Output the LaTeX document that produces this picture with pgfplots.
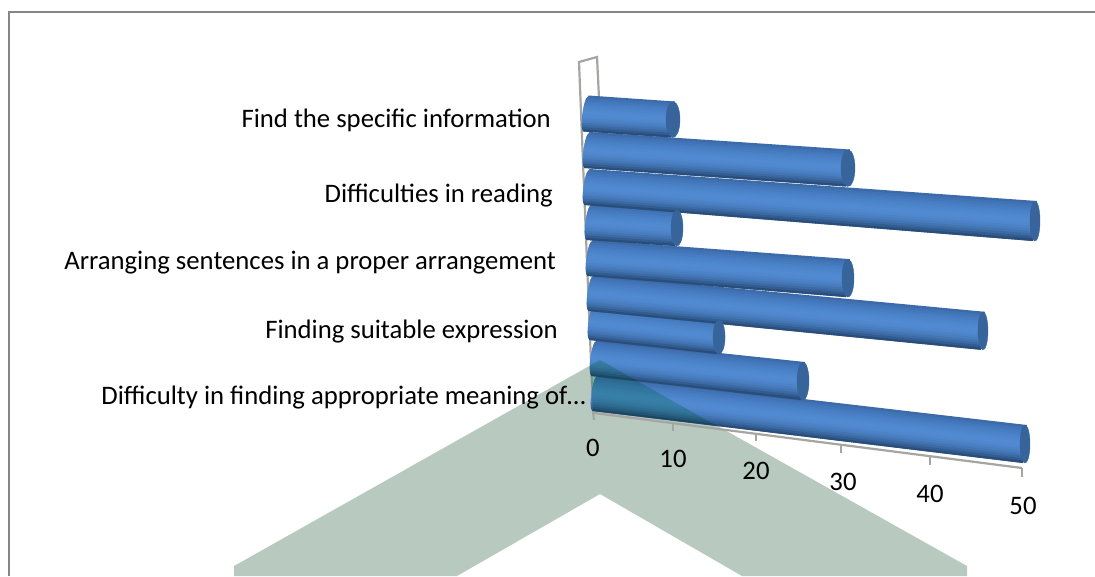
\documentclass[border=0pt]{standalone}
\usepackage{fontspec}
\setmainfont{Carlito}
\usepackage{pgfplots}
\pgfplotsset{compat=1.18}

% Across-the-cylinder shading, top edge to bottom edge
\definecolor{st0}{RGB}{60,107,170}
\definecolor{st1}{RGB}{64,114,180}
\definecolor{st2}{RGB}{68,120,188}
\definecolor{st3}{RGB}{71,125,194}
\definecolor{st4}{RGB}{74,129,199}
\definecolor{st5}{RGB}{77,133,203}
\definecolor{st6}{RGB}{80,136,207}
\definecolor{st7}{RGB}{82,138,209}
\definecolor{st8}{RGB}{82,138,209}
\definecolor{st9}{RGB}{80,135,205}
\definecolor{st10}{RGB}{76,131,199}
\definecolor{st11}{RGB}{72,125,191}
\definecolor{st12}{RGB}{67,117,179}
\definecolor{st13}{RGB}{60,106,164}
\definecolor{st14}{RGB}{51,93,145}
\definecolor{st15}{RGB}{41,78,123}
\definecolor{capblue}{RGB}{54,100,155}
\definecolor{wallgray}{RGB}{165,165,162}
\definecolor{framegray}{RGB}{134,134,134}
\definecolor{chevron}{RGB}{184,201,192}
\definecolor{chevrontint}{RGB}{175,235,205}

% One cylinder: value, start x, start y, x and y per unit of value,
% half height at start and end, width of the end ellipse
\newcommand{\cylinder}[8]{%
  \pgfmathsetmacro{\xe}{#2+#1*#4}%
  \pgfmathsetmacro{\ye}{#3+#1*#5}%
  \pgfplotsinvokeforeach{0,...,15}{%
    \pgfmathsetmacro{\ua}{-1+##1/8}%
    \pgfmathsetmacro{\ub}{min(1,-1+(##1+2)/8)}%
    \pgfmathsetmacro{\xa}{#2-3.5*sqrt(max(0,1-\ua*\ua))-2.5*\ua}%
    \pgfmathsetmacro{\xb}{#2-3.5*sqrt(max(0,1-\ub*\ub))-2.5*\ub}%
    \pgfmathsetmacro{\ya}{#3+\ua*#6}%
    \pgfmathsetmacro{\yb}{#3+\ub*#6}%
    \pgfmathsetmacro{\xc}{\xe-2*\ub}%
    \pgfmathsetmacro{\xd}{\xe-2*\ua}%
    \pgfmathsetmacro{\yc}{\ye+\ub*#7}%
    \pgfmathsetmacro{\yd}{\ye+\ua*#7}%
    \edef\stripe{\noexpand\addplot[fill=st##1,draw=none,forget plot]
      coordinates {(\xa,\ya) (\xb,\yb) (\xc,\yc) (\xd,\yd)} --cycle;}%
    \stripe
  }%
  \pgfmathsetmacro{\xscl}{#8/#7}%
  \edef\capmark{\noexpand\addplot[only marks,mark=*,mark size=#7pt,forget plot,
      mark options={fill=capblue,draw=capblue,line width=0.4pt,xscale=\xscl,rotate=-6}]
      coordinates {(\xe,\ye)};}%
  \capmark
}

\begin{document}
\begin{tikzpicture}[x=1pt,y=1pt]
\begin{axis}[
  scale only axis, width=1095pt, height=576pt,
  xmin=0, xmax=1095, ymin=0, ymax=576, y dir=reverse,
  hide axis, clip=true,
]
  \path[use as bounding box] (axis cs:0,0) rectangle (axis cs:1095,576);

  % Chevron behind the chart
  \addplot[fill=chevron,draw=none,forget plot]
    coordinates {(234,576) (234,566) (600,360) (967,566) (967,576) (742,576) (600,494) (457,576)} --cycle;

  % Outer frame
  \addplot[framegray,line width=2pt,forget plot] coordinates {(8.5,576) (8.5,12) (1095,12)};

  % Back wall and floor edge of the value axis
  \addplot[wallgray,line width=2.2pt,forget plot] coordinates {(599,98) (597,57) (579,62) (593,412) (594,420)};
  \addplot[wallgray,line width=2.2pt,forget plot] coordinates {(594,413) (1022,468)};
  \addplot[wallgray,line width=1.6pt,forget plot] coordinates {(595,413) (601,408)};

  % Ticks along the value axis
  \addplot[wallgray,line width=2pt,forget plot] coordinates {(673,423) (673,431)};
  \addplot[wallgray,line width=2pt,forget plot] coordinates {(756,433) (756,441)};
  \addplot[wallgray,line width=2pt,forget plot] coordinates {(841,445) (841,453)};
  \addplot[wallgray,line width=2pt,forget plot] coordinates {(930,457) (930,465)};
  \addplot[wallgray,line width=2pt,forget plot] coordinates {(1022,468) (1022,477)};

  % Bars, drawn from the lowest row upward
  \cylinder{50}{595}{393}{8.60}{1.02}{18}{19}{5}
  \cylinder{25}{594}{358}{8.36}{0.92}{18}{19}{6}
  \cylinder{15}{592}{322}{8.47}{1.00}{18}{17}{6}
  \cylinder{45}{591}{293}{8.71}{0.84}{18}{19}{5}
  \cylinder{30}{590}{258}{8.60}{0.67}{18}{19}{6}
  \cylinder{10}{589}{222}{8.80}{0.60}{18}{18}{6}
  \cylinder{50}{587}{187}{8.96}{0.68}{18}{20}{5}
  \cylinder{30}{587}{150}{8.70}{0.60}{18}{18.5}{7}
  \cylinder{10}{586}{113.5}{8.70}{0.60}{18}{18}{7}

  % Category labels
  \node[anchor=east,inner xsep=0pt,font=\fontsize{26.7}{30}\selectfont] at (axis cs:551,120.5) {Find the specific information};
  \node[anchor=east,inner xsep=0pt,font=\fontsize{26.7}{30}\selectfont] at (axis cs:553,195.5) {Difficulties in reading};
  \node[anchor=east,inner xsep=0pt,font=\fontsize{26.7}{30}\selectfont] at (axis cs:556,262.5) {Arranging sentences in a proper arrangement};
  \node[anchor=east,inner xsep=0pt,font=\fontsize{26.7}{30}\selectfont] at (axis cs:558,331.5) {Finding suitable expression};
  \node[anchor=east,inner xsep=0pt,font=\fontsize{26.7}{30}\selectfont] at (axis cs:586,397.5) {Difficulty in finding appropriate meaning of…};

  % Value labels
  \node[font=\fontsize{26.7}{30}\selectfont] at (axis cs:593,448) {0};
  \node[font=\fontsize{26.7}{30}\selectfont] at (axis cs:673,459) {10};
  \node[font=\fontsize{26.7}{30}\selectfont] at (axis cs:756,471) {20};
  \node[font=\fontsize{26.7}{30}\selectfont] at (axis cs:843,482) {30};
  \node[font=\fontsize{26.7}{30}\selectfont] at (axis cs:930,494) {40};
  \node[font=\fontsize{26.7}{30}\selectfont] at (axis cs:1023,506) {50};

  % Tint where the chevron crosses the lowest bars
  \addplot[fill=chevrontint,draw=none,forget plot,blend mode=multiply]
    coordinates {(590,365.6) (600,360) (717,426) (593,411)} --cycle;
\end{axis}
\end{tikzpicture}
\end{document}
